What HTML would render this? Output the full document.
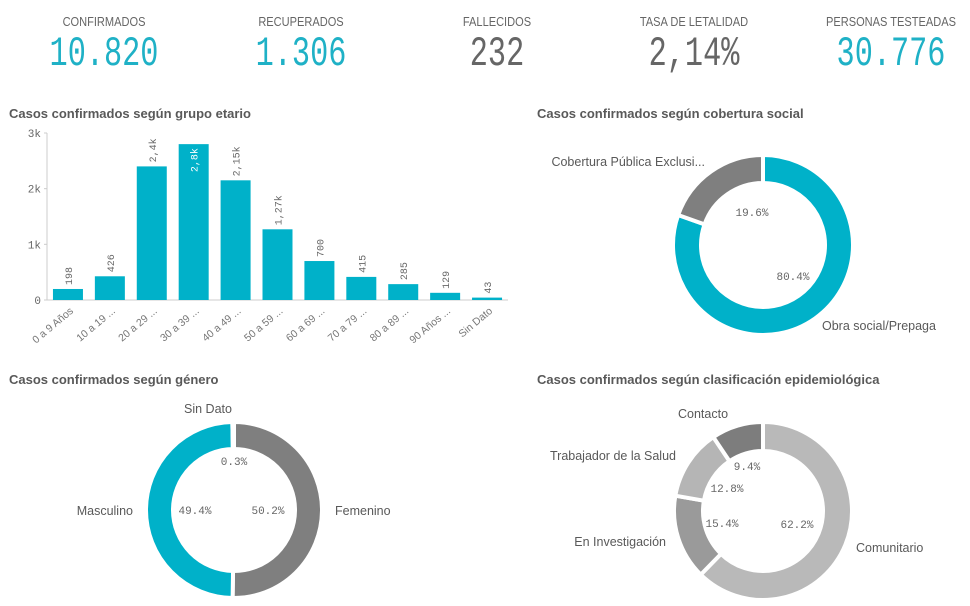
<!DOCTYPE html>
<html><head><meta charset="utf-8">
<style>
body{margin:0;width:970px;height:606px;background:#fff;font-family:"Liberation Sans",sans-serif;overflow:hidden;position:relative}
.kpi{position:absolute;top:0;width:196px;text-align:center}
.kpi .lab{position:absolute;top:14px;left:0;width:100%;font-size:13px;color:#666;transform:scaleX(0.85)}
.kpi .val{position:absolute;top:30px;left:0;width:100%;font-family:"Liberation Mono",monospace;font-size:42px;transform:scaleX(0.72);}
.teal{color:#1fb1c6}.grey{color:#666}
.title{position:absolute;font-size:13px;font-weight:bold;color:#595959}
svg{position:absolute;left:0;top:0}
</style></head><body>
<div class="kpi" style="left:6px"><div class="lab">CONFIRMADOS</div><div class="val teal">10.820</div></div>
<div class="kpi" style="left:203px"><div class="lab">RECUPERADOS</div><div class="val teal">1.306</div></div>
<div class="kpi" style="left:399px"><div class="lab">FALLECIDOS</div><div class="val grey">232</div></div>
<div class="kpi" style="left:596px"><div class="lab">TASA DE LETALIDAD</div><div class="val grey">2,14%</div></div>
<div class="kpi" style="left:793px"><div class="lab">PERSONAS TESTEADAS</div><div class="val teal">30.776</div></div>

<div class="title" style="left:9px;top:106px">Casos confirmados según grupo etario</div>
<div class="title" style="left:537px;top:106px">Casos confirmados según cobertura social</div>
<div class="title" style="left:9px;top:372px">Casos confirmados según género</div>
<div class="title" style="left:537px;top:372px">Casos confirmados según clasificación epidemiológica</div>

<svg id="svg" width="970" height="606"></svg>
<script>
const ageCats=["0 a 9 Años","10 a 19 ...","20 a 29 ...","30 a 39 ...","40 a 49 ...","50 a 59 ...","60 a 69 ...","70 a 79 ...","80 a 89 ...","90 Años ...","Sin Dato"];
const ageVals=[198,426,2400,2800,2150,1270,700,415,285,129,43];
const ageLabels=["198","426","2,4k","2,8k","2,15k","1,27k","700","415","285","129","43"];
const yTicks=[0,1000,2000,3000];
const yTickLabels=["0","1k","2k","3k"];
const socialCats=["Obra social/Prepaga","Cobertura Pública Exclusi..."];
const socialVals=[80.4,19.6];
const genderCats=["Femenino","Masculino","Sin Dato"];
const genderVals=[50.2,49.4,0.3];
const epiCats=["Comunitario","En Investigación","Trabajador de la Salud","Contacto"];
const epiVals=[62.2,15.4,12.8,9.4];

const NS="http://www.w3.org/2000/svg";
const svg=document.getElementById('svg');
function mk(t,a,p){const e=document.createElementNS(NS,t);for(const k in a)e.setAttribute(k,a[k]);(p||svg).appendChild(e);return e;}
// bar chart
const x0=47,x1=508,y0=300,yTop=133,yMax=3000;
const band=(x1-x0)/ageCats.length;
const yS=v=>y0-(v/yMax)*(y0-yTop);
const xS=i=>x0+i*band+band/2;
let ax=mk('line',{x1:x0,y1:yTop,x2:x0,y2:y0,stroke:'#ccc'});

let bx=mk('line',{x1:x0,y1:y0,x2:x1,y2:y0,stroke:'#ccc'});

yTicks.forEach((t,i)=>{
  const tl=mk('text',{x:x0-6,y:yS(t)+4,'text-anchor':'end','font-size':11,fill:'#666','font-family':'Liberation Mono, monospace'});
  tl.textContent=yTickLabels[i];
  
  const tk=mk('line',{x1:x0-3,y1:yS(t),x2:x0,y2:yS(t),stroke:'#ccc'});
});
ageVals.forEach((v,i)=>{
  const w=30,cx=xS(i);
  const r=mk('rect',{x:cx-w/2,y:yS(v),width:w,height:y0-yS(v),fill:'#00b1c9'});
  
  const inside=v>2600;
  const ly=inside?yS(v)+4:yS(v)-4;
  const t=mk('text',{x:0,y:0,'font-size':10,fill:inside?'#fff':'#666','font-family':'Liberation Mono, monospace','text-anchor':inside?'end':'start',transform:`translate(${cx+4},${ly}) rotate(-90)`});
  t.textContent=ageLabels[i];
  
  const c=mk('text',{x:0,y:0,'font-size':10.5,fill:'#777','text-anchor':'end',transform:`translate(${cx+6},${y0+12}) rotate(-40)`});
  c.textContent=ageCats[i];
  
});
// donuts
function arcPath(cx,cy,ro,ri,a0,a1){
  const p=(r,a)=>[cx+r*Math.sin(a),cy-r*Math.cos(a)];
  const L=(a1-a0)>Math.PI?1:0;
  const [x1,y1]=p(ro,a0),[x2,y2]=p(ro,a1),[x3,y3]=p(ri,a1),[x4,y4]=p(ri,a0);
  return `M${x1},${y1}A${ro},${ro} 0 ${L} 1 ${x2},${y2}L${x3},${y3}A${ri},${ri} 0 ${L} 0 ${x4},${y4}Z`;
}
function donut(name,cx,cy,ro,ri,vals,cats,colors,pctPos,labPos){
  const tot=vals.reduce((a,b)=>a+b,0);let a=0;
  vals.forEach((v,i)=>{
    const a0=a*2*Math.PI/tot,a1=(a+v)*2*Math.PI/tot;a+=v;
    const p=mk('path',{d:arcPath(cx,cy,ro,ri,a0,a1),fill:colors[i],stroke:'#fff','stroke-width':4,'stroke-linejoin':'round'});
    
    const t=mk('text',{x:pctPos[i][0],y:pctPos[i][1],'font-size':11,fill:'#666','text-anchor':'middle','font-family':'Liberation Mono, monospace'});
    t.textContent=vals[i].toFixed(1)+'%';
    
    const l=mk('text',{x:labPos[i][0],y:labPos[i][1],'font-size':12.5,fill:'#595959','text-anchor':labPos[i][2]});
    l.textContent=cats[i];
    
  });
}
donut('social',763,245,90,62,socialVals,socialCats,['#00b1c9','#7f7f7f'],[[793,280],[752,216]],[[822,330,'start'],[705,166,'end']]);
donut('gender',234,510,88,61,genderVals,genderCats,['#7f7f7f','#00b1c9','#bdbdbd'],[[268,514],[195,514],[234,465]],[[335,515,'start'],[133,515,'end'],[208,413,'middle']]);
donut('epi',763,511,89,60,epiVals,epiCats,['#b9b9b9','#9a9a9a','#b5b5b5','#7d7d7d'],[[797,528],[722,527],[727,492],[747,470]],[[856,552,'start'],[666,546,'end'],[676,460,'end'],[703,418,'middle']]);
</script>
</body></html>
